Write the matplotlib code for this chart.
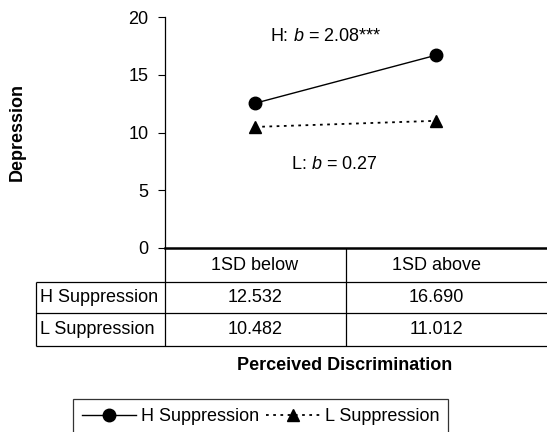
import matplotlib
matplotlib.use("Agg")
import matplotlib.pyplot as plt
from matplotlib.lines import Line2D
import matplotlib.transforms as mtransforms

categories = ["1SD below", "1SD above"]
series_names = ["H Suppression", "L Suppression"]
h_values = [12.532, 16.690]
l_values = [10.482, 11.012]
h_label = "H: $b$ = 2.08***"
l_label = "L: $b$ = 0.27"
yticks = [0, 5, 10, 15, 20]
xlabel = "Perceived Discrimination"
ylabel = "Depression"

plt.rcParams['font.family'] = ['Liberation Sans', 'DejaVu Sans']
plt.rcParams['mathtext.fontset'] = 'custom'
plt.rcParams['mathtext.rm'] = 'Liberation Sans'
plt.rcParams['mathtext.it'] = 'Liberation Sans:italic'
plt.rcParams['mathtext.bf'] = 'Liberation Sans:bold'

FS = 13
W, H = 547, 432
fig = plt.figure(figsize=(W / 100, H / 100), dpi=100)
left_px, right_px, top_px, bot_px = 165, 552, 17, 248
ax = fig.add_axes([left_px / W, 1 - bot_px / H, (right_px - left_px) / W, (bot_px - top_px) / H])

x = list(range(len(categories)))
# data x: 0 at px 255, 1 at px 436
scale = 181.0
ax.set_xlim((left_px - 255) / scale, (right_px - 255) / scale)
ax.set_ylim(0, 20)

ax.plot(x, h_values, color='black', lw=1.0, marker='o', markersize=9, clip_on=False,
        label=series_names[0])
ax.plot(x, l_values, color='black', lw=1.3, linestyle=(0, (1.5, 2.5)), marker='^',
        markersize=8.5, clip_on=False, label=series_names[1])

ax.text(0.39, 18.27, h_label, fontsize=FS, ha='center', va='center')
ax.text(0.44, 7.19, l_label, fontsize=FS, ha='center', va='center')

ax.set_yticks(yticks)
ax.set_yticklabels([str(t) for t in yticks], fontsize=FS)
ax.tick_params(axis='y', direction='out', length=5, width=0.8, pad=7, colors='black')
ax.set_xticks([])
for s in ['top', 'right']:
    ax.spines[s].set_visible(False)
ax.spines['left'].set_linewidth(0.9)
ax.spines['bottom'].set_linewidth(1.8)

# table
trans = mtransforms.blended_transform_factory(ax.transData, ax.transAxes)
axh = bot_px - top_px
def yax(py):
    return -(py - bot_px) / axh
y_head = yax(282)
y_r1 = yax(313)
y_r2 = yax(346)
x_lab = (36 - 255) / scale
x_b0 = -0.5
x_b1 = 0.5
x_b2 = (right_px - 255) / scale
lw = 0.9
kw = dict(color='black', lw=lw, transform=trans, clip_on=False, solid_capstyle='butt')
ax.add_line(Line2D([x_b0, x_b0], [0, y_r2], **kw))
ax.add_line(Line2D([x_b1, x_b1], [0, y_r2], **kw))
ax.add_line(Line2D([x_lab, x_lab], [y_head, y_r2], **kw))
ax.add_line(Line2D([x_lab, x_b2], [y_head, y_head], **kw))
ax.add_line(Line2D([x_lab, x_b2], [y_r1, y_r1], **kw))
ax.add_line(Line2D([x_lab, x_b2], [y_r2, y_r2], **kw))

for i, c in enumerate(categories):
    ax.text(i, (0 + y_head) / 2, c, fontsize=FS, ha='center', va='center', transform=trans)
rows = [h_values, l_values]
ys = [(y_head + y_r1) / 2, (y_r1 + y_r2) / 2]
for r, (name, vals) in enumerate(zip(series_names, rows)):
    ax.text((40 - 255) / scale, ys[r], name, fontsize=FS, ha='left', va='center', transform=trans)
    for i, v in enumerate(vals):
        ax.text(i, ys[r], f"{v:.3f}", fontsize=FS, ha='center', va='center', transform=trans)

fig.text(345 / W, 1 - 366 / H, xlabel, fontsize=FS, fontweight='bold', ha='center', va='center')
fig.text(17 / W, 1 - 132 / H, ylabel, fontsize=FS, fontweight='bold', ha='center', va='center',
         rotation=90)

leg = fig.legend(loc='upper left', bbox_to_anchor=(73 / W, 1 - 399 / H), ncol=2,
                 fontsize=FS, frameon=True, fancybox=False, edgecolor='black',
                 handlelength=3.0, handletextpad=0.25, columnspacing=0.4,
                 borderpad=0.5, borderaxespad=0)
leg.get_frame().set_linewidth(0.9)

fig.savefig("out.png", dpi=100)
